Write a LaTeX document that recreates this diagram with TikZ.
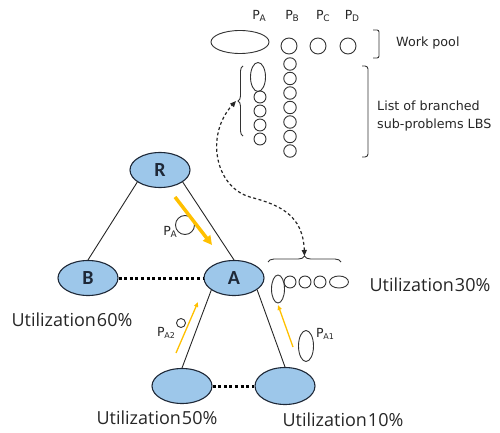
\documentclass[tikz,border=0pt]{standalone}
\usepackage{fontspec}
\setmainfont{DejaVu Sans}
\newfontfamily\utilfont{Open Sans}
\newfontfamily\nodefont{Carlito}
\usetikzlibrary{shapes.geometric,arrows.meta,decorations.pathreplacing}
\definecolor{nodeblue}{RGB}{157,199,234}
\definecolor{nodeline}{RGB}{30,40,55}
\definecolor{gold}{RGB}{255,192,0}
\newcommand\psub[3][9]{#2\kern-0.3pt\raisebox{-1.6pt}{\fontsize{#1}{10}\selectfont #3}}
\begin{document}
\begin{tikzpicture}[x=1pt,y=-1pt,
  proc/.style={ellipse,draw=nodeline,fill=nodeblue,line width=1.1pt,
    minimum width=60pt,minimum height=35pt,inner sep=0pt,
    font=\nodefont\bfseries\fontsize{20}{22}\selectfont,text=nodeline},
  job/.style={circle,draw=black!80,line width=0.9pt,inner sep=0pt,minimum size=#1},
  job/.default=12pt,
  vjob/.style={ellipse,draw=black!80,line width=0.9pt,inner sep=0pt},
  treeline/.style={draw=black!85,line width=0.9pt},
  peerlink/.style={line width=3pt,dash pattern=on 3pt off 2.6pt},
  util/.style={font=\utilfont\fontsize{18}{20}\selectfont,text=black!85,inner sep=0pt},
  note/.style={font=\fontsize{12.7}{18}\selectfont,text=black!85,align=left,inner sep=0pt},
  lbl/.style={font=\fontsize{12.5}{14}\selectfont,text=black!85,inner sep=0pt},
  migrate/.style={gold,line width=1.3pt,-{Triangle[length=5pt,width=4pt]}},
  bracegroup/.style={draw=black!80,line width=0.9pt,decorate,decoration={brace,amplitude=#1}},
]
\useasboundingbox (0,0) rectangle (500,433);

% processors
\node[proc] (R) at (160,170) {R};
\node[proc] (B) at (88,278) {B};
\node[proc] (A) at (234,278) {A};
\node[proc,minimum height=35pt] (A2) at (182,386) {};
\node[proc,minimum height=37pt] (A1) at (285,386) {};

\draw[treeline] (R.208) -- (B.north);
\draw[treeline] (R.332) -- (A.north);
\draw[treeline] (A.208) -- (A2.north);
\draw[treeline] (A.333) -- (A1.north);
\draw[peerlink] (B.east) -- (A.west);
\draw[peerlink] (A2.east) -- (A1.west);

% work pool
\node[lbl] (lPA) at (259,16) {\psub{P}{A}};
\node[lbl] (lPB) at (292,16) {\psub{P}{B}};
\node[lbl] (lPC) at (323,16) {\psub{P}{C}};
\node[lbl] (lPD) at (352,16) {\psub{P}{D}};
\node[vjob,minimum width=58pt,minimum height=23pt] (poolA) at (240,42) {};
\node[job=16pt] (poolB) at (289,46) {};
\node[job=16pt] (poolC) at (318,46) {};
\node[job=16pt] (poolD) at (348,46) {};
\draw[draw=black!80,line width=0.9pt,rounded corners=2pt] (373,30) -- (379,30) -- (379,58) -- (373,58);
\node[note,anchor=west] (wp) at (396,43) {Work pool};

% list of branched sub-problems
\node[vjob,minimum width=15pt,minimum height=29pt] (a0) at (258,77) {};
\foreach \k in {0,...,3} \node[job] (a\the\numexpr\k+1\relax) at (260,97+14*\k) {};
\foreach \k in {0,...,6} \node[job=12.5pt] (b\k) at (290,64+14.5*\k) {};
\draw[bracegroup=5pt] (243,136) -- (243,66);
\coordinate (lbsTip) at (236,101);
\draw[draw=black!80,line width=0.9pt,rounded corners=3pt] (362,66) -- (368,66) -- (368,157) -- (362,157);
\node[note,anchor=west] (lbs) at (377,116) {List of branched\\sub-problems LBS};

% local queue of A
\node[vjob,minimum width=13pt,minimum height=28pt] (q0) at (278,289) {};
\node[job] (q1) at (290,282) {};
\node[job] (q2) at (305,282) {};
\node[job] (q3) at (320,282) {};
\node[vjob,minimum width=19pt,minimum height=12pt] (q4) at (339,282) {};
\draw[bracegroup=6pt] (268,262) -- (341,262);
\coordinate (qTip) at (304.5,256);

\draw[black!85,line width=1.2pt,dash pattern=on 3pt off 2.5pt,
  {Triangle[length=6pt,width=5pt]}-{Triangle[length=6pt,width=5pt]}]
  (qTip) .. controls (303,215) and (280,205) .. (250,197)
  .. controls (215,187) and (205,135) .. (lbsTip);

% migrated jobs
\node[job=19pt] (pa) at (185,225) {};
\node[lbl] (lpa) at (170,232) {\psub{P}{A}};
\coordinate (ya1) at (175,197);
\coordinate (ya2) at (212,245);
\draw[gold,line width=3.5pt,-{Triangle[length=9pt,width=9pt]}] (ya1) -- (ya2);

\node[job=9pt] (pa2) at (181,323) {};
\node[lbl] (lpa2) at (166,333) {\psub[8]{P}{A2}};
\coordinate (yb1) at (176,353);
\coordinate (yb2) at (198,302);
\draw[migrate] (yb1) -- (yb2);

\node[vjob,minimum width=15pt,minimum height=31pt] (pa1) at (306,346) {};
\node[lbl] (lpa1) at (325,334) {\psub[8]{P}{A1}};
\coordinate (yc1) at (293,347);
\coordinate (yc2) at (278,305);
\draw[migrate] (yc1) -- (yc2);

% utilizations
\node[util] (uB) at (72,320) {Utilization\kern1pt 60\%};
\node[util] (uA) at (430,285) {Utilization\kern1pt 30\%};
\node[util] (uA2) at (157,418) {Utilization\kern1pt 50\%};
\node[util] (uA1) at (343,420) {Utilization\kern1pt 10\%};
\end{tikzpicture}
\end{document}
